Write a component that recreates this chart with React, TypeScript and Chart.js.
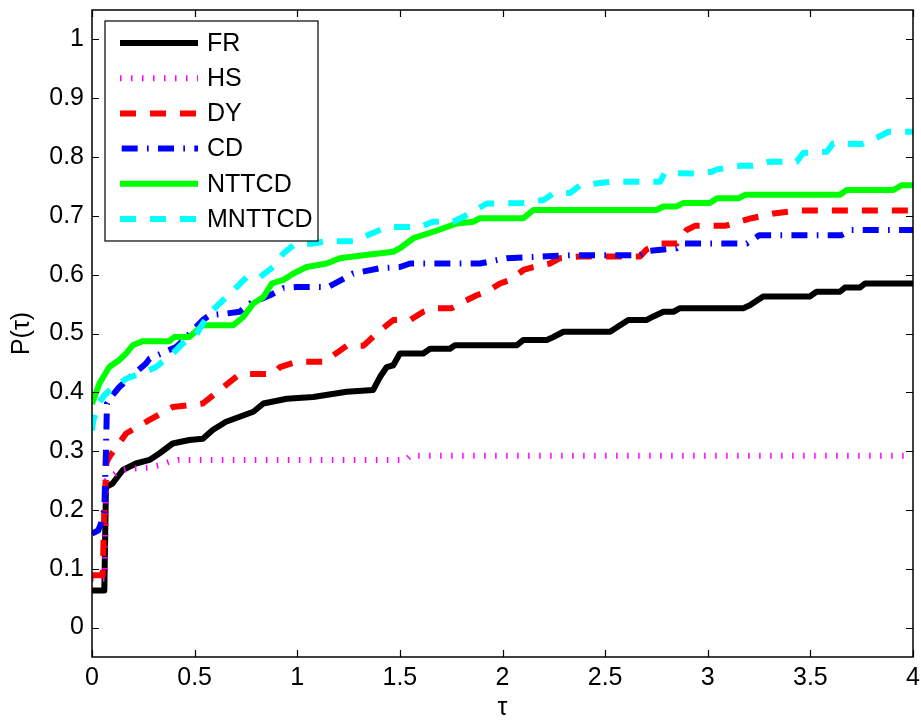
import React, { useEffect, useRef } from "react";
import { Chart, registerables } from "chart.js";

Chart.register(...registerables);

// ---- data -------------------------------------------------------------
const X_TICKS = [0, 0.5, 1, 1.5, 2, 2.5, 3, 3.5, 4];
const Y_TICKS = [0, 0.1, 0.2, 0.3, 0.4, 0.5, 0.6, 0.7, 0.8, 0.9, 1];
const X_LABEL = "τ";
const Y_LABEL = "P(τ)";
const SERIES_NAMES = ["FR", "HS", "DY", "CD", "NTTCD", "MNTTCD"];

// [tau, P(tau)] pairs
const FR: number[][] = [
  [0, 0.063], [0.06, 0.063], [0.068, 0.239], [0.1, 0.245], [0.15, 0.268], [0.214, 0.279],
  [0.28, 0.285], [0.328, 0.296], [0.393, 0.313], [0.474, 0.319], [0.54, 0.321], [0.588, 0.336],
  [0.653, 0.35], [0.786, 0.367], [0.835, 0.381], [0.949, 0.389], [1.078, 0.392], [1.241, 0.401],
  [1.37, 0.404], [1.403, 0.426], [1.436, 0.443], [1.468, 0.446], [1.5, 0.466], [1.614, 0.466],
  [1.647, 0.474], [1.744, 0.474], [1.768, 0.48], [2.069, 0.48], [2.102, 0.489], [2.216, 0.489],
  [2.248, 0.494], [2.297, 0.503], [2.524, 0.503], [2.573, 0.514], [2.613, 0.523], [2.703, 0.523],
  [2.735, 0.529], [2.784, 0.537], [2.833, 0.537], [2.865, 0.543], [3.173, 0.543], [3.205, 0.548],
  [3.27, 0.563], [3.497, 0.563], [3.53, 0.571], [3.644, 0.571], [3.668, 0.578], [3.741, 0.578],
  [3.766, 0.585], [4, 0.585],
];
const HS: number[][] = [
  [0, 0.083], [0.062, 0.083], [0.07, 0.25], [0.125, 0.265], [0.174, 0.27], [0.28, 0.272],
  [0.328, 0.276], [0.377, 0.282], [0.42, 0.285], [1.53, 0.285], [1.55, 0.292], [4, 0.292],
];
const DY: number[][] = [
  [0, 0.089], [0.052, 0.089], [0.06, 0.2], [0.07, 0.28], [0.084, 0.29], [0.166, 0.33],
  [0.28, 0.353], [0.393, 0.375], [0.54, 0.381], [0.64, 0.409], [0.72, 0.431], [0.883, 0.431],
  [0.916, 0.443], [0.997, 0.452], [1.143, 0.452], [1.176, 0.463], [1.241, 0.479], [1.322, 0.479],
  [1.387, 0.5], [1.436, 0.514], [1.468, 0.523], [1.55, 0.523], [1.614, 0.537], [1.663, 0.543],
  [1.752, 0.543], [1.793, 0.551], [1.874, 0.565], [1.923, 0.571], [1.988, 0.585], [2.037, 0.591],
  [2.102, 0.608], [2.15, 0.613], [2.231, 0.619], [2.28, 0.628], [2.378, 0.631], [2.67, 0.631],
  [2.703, 0.643], [2.768, 0.653], [2.85, 0.653], [2.897, 0.676], [2.938, 0.683], [3.084, 0.683],
  [3.214, 0.696], [3.32, 0.704], [3.433, 0.709], [4, 0.709],
];
const CD: number[][] = [
  [0, 0.16], [0.03, 0.165], [0.044, 0.177], [0.06, 0.2], [0.068, 0.3], [0.073, 0.381],
  [0.1, 0.395], [0.133, 0.409], [0.2, 0.43], [0.263, 0.449], [0.28, 0.457], [0.41, 0.477],
  [0.45, 0.49], [0.54, 0.523], [0.572, 0.531], [0.656, 0.534], [0.72, 0.537], [0.77, 0.551],
  [0.827, 0.559], [0.867, 0.565], [0.932, 0.577], [1.0, 0.579], [1.15, 0.579], [1.273, 0.602],
  [1.403, 0.611], [1.5, 0.613], [1.55, 0.619], [1.89, 0.619], [2.02, 0.628], [2.33, 0.633],
  [2.67, 0.633], [2.7, 0.64], [2.849, 0.645], [2.882, 0.653], [3.19, 0.653], [3.25, 0.667],
  [3.65, 0.667], [3.7, 0.676], [4, 0.676],
];
const NTTCD: number[][] = [
  [0, 0.38], [0.036, 0.415], [0.084, 0.443], [0.133, 0.455], [0.166, 0.466], [0.198, 0.48],
  [0.247, 0.487], [0.377, 0.487], [0.401, 0.494], [0.474, 0.494], [0.54, 0.514], [0.688, 0.514],
  [0.737, 0.528], [0.786, 0.551], [0.835, 0.562], [0.876, 0.585], [0.932, 0.591], [0.981, 0.602],
  [1.046, 0.613], [1.143, 0.619], [1.208, 0.628], [1.322, 0.633], [1.468, 0.639], [1.5, 0.645],
  [1.566, 0.662], [1.663, 0.673], [1.777, 0.687], [1.858, 0.69], [1.89, 0.696], [2.102, 0.696],
  [2.15, 0.71], [2.75, 0.71], [2.784, 0.716], [2.849, 0.716], [2.882, 0.722], [3.01, 0.722],
  [3.045, 0.73], [3.15, 0.73], [3.184, 0.736], [3.644, 0.736], [3.677, 0.744], [3.904, 0.744],
  [3.944, 0.752], [4, 0.752],
];
const MNTTCD: number[][] = [
  [0, 0.335], [0.005, 0.35], [0.03, 0.38], [0.06, 0.395], [0.088, 0.404], [0.166, 0.423],
  [0.28, 0.438], [0.312, 0.443], [0.393, 0.466], [0.442, 0.483], [0.506, 0.497], [0.54, 0.517],
  [0.588, 0.54], [0.64, 0.557], [0.705, 0.579], [0.754, 0.596], [0.819, 0.596], [0.883, 0.613],
  [0.932, 0.636], [0.981, 0.65], [1.078, 0.653], [1.143, 0.657], [1.273, 0.657], [1.403, 0.676],
  [1.436, 0.681], [1.6, 0.681], [1.66, 0.69], [1.76, 0.69], [1.84, 0.704], [1.923, 0.721],
  [2.1, 0.722], [2.2, 0.727], [2.248, 0.738], [2.33, 0.739], [2.378, 0.752], [2.475, 0.756],
  [2.53, 0.758], [2.768, 0.758], [2.79, 0.773], [2.95, 0.772], [3.02, 0.775], [3.045, 0.779],
  [3.16, 0.785], [3.22, 0.785], [3.3, 0.792], [3.433, 0.792], [3.465, 0.807], [3.58, 0.809],
  [3.61, 0.823], [3.75, 0.822], [3.83, 0.834], [3.88, 0.843], [4, 0.843],
];
const SERIES = [FR, HS, DY, CD, NTTCD, MNTTCD];

// ---- styles -------------------------------------------------------------
const COLORS = ["#000000", "#ff00ff", "#ff0000", "#0000ff", "#00ff00", "#00ffff"];
const DASHES: number[][] = [[], [1.5, 9.5], [16, 14], [16, 9.3, 1.7, 9.3], [], [16, 14]];
const FONT = '"Liberation Sans", Arial, Helvetica, sans-serif';
const FONT_SIZE = 25;

const framePlugin = {
  id: "matlabFrame",
  afterDraw(chart: any) {
    const { ctx, chartArea: a, scales } = chart;
    ctx.save();
    ctx.strokeStyle = "#000";
    ctx.lineWidth = 1.5;
    ctx.setLineDash([]);
    ctx.strokeRect(a.left, a.top, a.right - a.left, a.bottom - a.top);
    const tl = 7;
    ctx.lineWidth = 1.2;
    ctx.beginPath();
    for (const t of scales.x.ticks) {
      const px = Math.round(scales.x.getPixelForValue(t.value)) + 0.5;
      ctx.moveTo(px, a.bottom);
      ctx.lineTo(px, a.bottom - tl);
      ctx.moveTo(px, a.top);
      ctx.lineTo(px, a.top + tl);
    }
    for (const t of scales.y.ticks) {
      const py = Math.round(scales.y.getPixelForValue(t.value)) + 0.5;
      ctx.moveTo(a.left, py);
      ctx.lineTo(a.left + tl, py);
      ctx.moveTo(a.right, py);
      ctx.lineTo(a.right - tl, py);
    }
    ctx.stroke();

    // legend box
    const lx = a.left + 13;
    const ly = a.top + 11;
    const lw = 213;
    const lh = 220;
    ctx.fillStyle = "#fff";
    ctx.fillRect(lx, ly, lw, lh);
    ctx.lineWidth = 1.2;
    ctx.strokeStyle = "#000";
    ctx.strokeRect(lx, ly, lw, lh);
    ctx.font = `${FONT_SIZE}px ${FONT}`;
    ctx.textBaseline = "middle";
    ctx.textAlign = "left";
    chart.data.datasets.forEach((ds: any, i: number) => {
      const y = ly + 22 + i * 35.2;
      ctx.beginPath();
      ctx.strokeStyle = ds.borderColor;
      ctx.lineWidth = ds.borderWidth;
      ctx.lineCap = "butt";
      ctx.setLineDash(ds.borderDash || []);
      ctx.lineDashOffset = i === 3 ? 34.6 : 0;
      ctx.moveTo(lx + 15, y);
      ctx.lineTo(lx + 93, y);
      ctx.stroke();
      ctx.setLineDash([]);
      ctx.fillStyle = "#000";
      ctx.fillText(ds.label, lx + 102, y + 1);
    });
    ctx.restore();
  },
};

export default function App() {
  const ref = useRef<HTMLCanvasElement | null>(null);

  useEffect(() => {
    if (!ref.current) return;
    const chart = new Chart(ref.current, {
      type: "line",
      data: {
        datasets: SERIES.map((s, i) => ({
          label: SERIES_NAMES[i],
          data: s.map(([x, y]) => ({ x, y })),
          borderColor: COLORS[i],
          backgroundColor: COLORS[i],
          borderWidth: 6,
          borderDash: DASHES[i],
          borderCapStyle: "butt",
          borderJoinStyle: "round",
          pointRadius: 0,
          fill: false,
          tension: 0,
          clip: 0,
          order: SERIES.length - i,
        })),
      },
      options: {
        animation: false,
        responsive: false,
        events: [],
        layout: { padding: { top: 10, right: 8, left: 0, bottom: 0 } },
        plugins: { legend: { display: false }, tooltip: { enabled: false } },
        scales: {
          x: {
            type: "linear",
            min: 0,
            max: 4,
            afterBuildTicks: (s: any) => {
              s.ticks = X_TICKS.map((v) => ({ value: v }));
            },
            afterFit: (s: any) => {
              s.height = 63;
              s.paddingLeft = 0;
              s.paddingRight = 0;
            },
            grid: { display: false, drawTicks: false },
            border: { display: false },
            ticks: {
              autoSkip: false,
              maxRotation: 0,
              padding: 6,
              color: "#000",
              font: { family: FONT, size: FONT_SIZE },
              callback: (v: any) => String(v),
            },
            title: {
              display: true,
              text: X_LABEL,
              color: "#000",
              font: { family: FONT, size: FONT_SIZE },
              padding: { top: 0, bottom: -3 },
            },
          },
          y: {
            type: "linear",
            min: -0.05,
            max: 1.05,
            afterBuildTicks: (s: any) => {
              s.ticks = Y_TICKS.map((v) => ({ value: v }));
            },
            afterFit: (s: any) => {
              s.width = 92;
              s.paddingTop = 0;
              s.paddingBottom = 0;
            },
            grid: { display: false, drawTicks: false },
            border: { display: false },
            ticks: {
              autoSkip: false,
              padding: 8,
              color: "#000",
              font: { family: FONT, size: FONT_SIZE },
              callback: (v: any) => String(v),
            },
            title: {
              display: true,
              text: Y_LABEL,
              color: "#000",
              font: { family: FONT, size: FONT_SIZE },
              padding: { top: 7, bottom: 0 },
            },
          },
        },
      },
      plugins: [framePlugin],
    } as any);
    return () => chart.destroy();
  }, []);

  return (
    <div style={{ position: "fixed", left: 0, top: 0, width: 921, height: 720, background: "#fff" }}>
      <canvas ref={ref} width={921} height={720} style={{ width: 921, height: 720 }} />
    </div>
  );
}
